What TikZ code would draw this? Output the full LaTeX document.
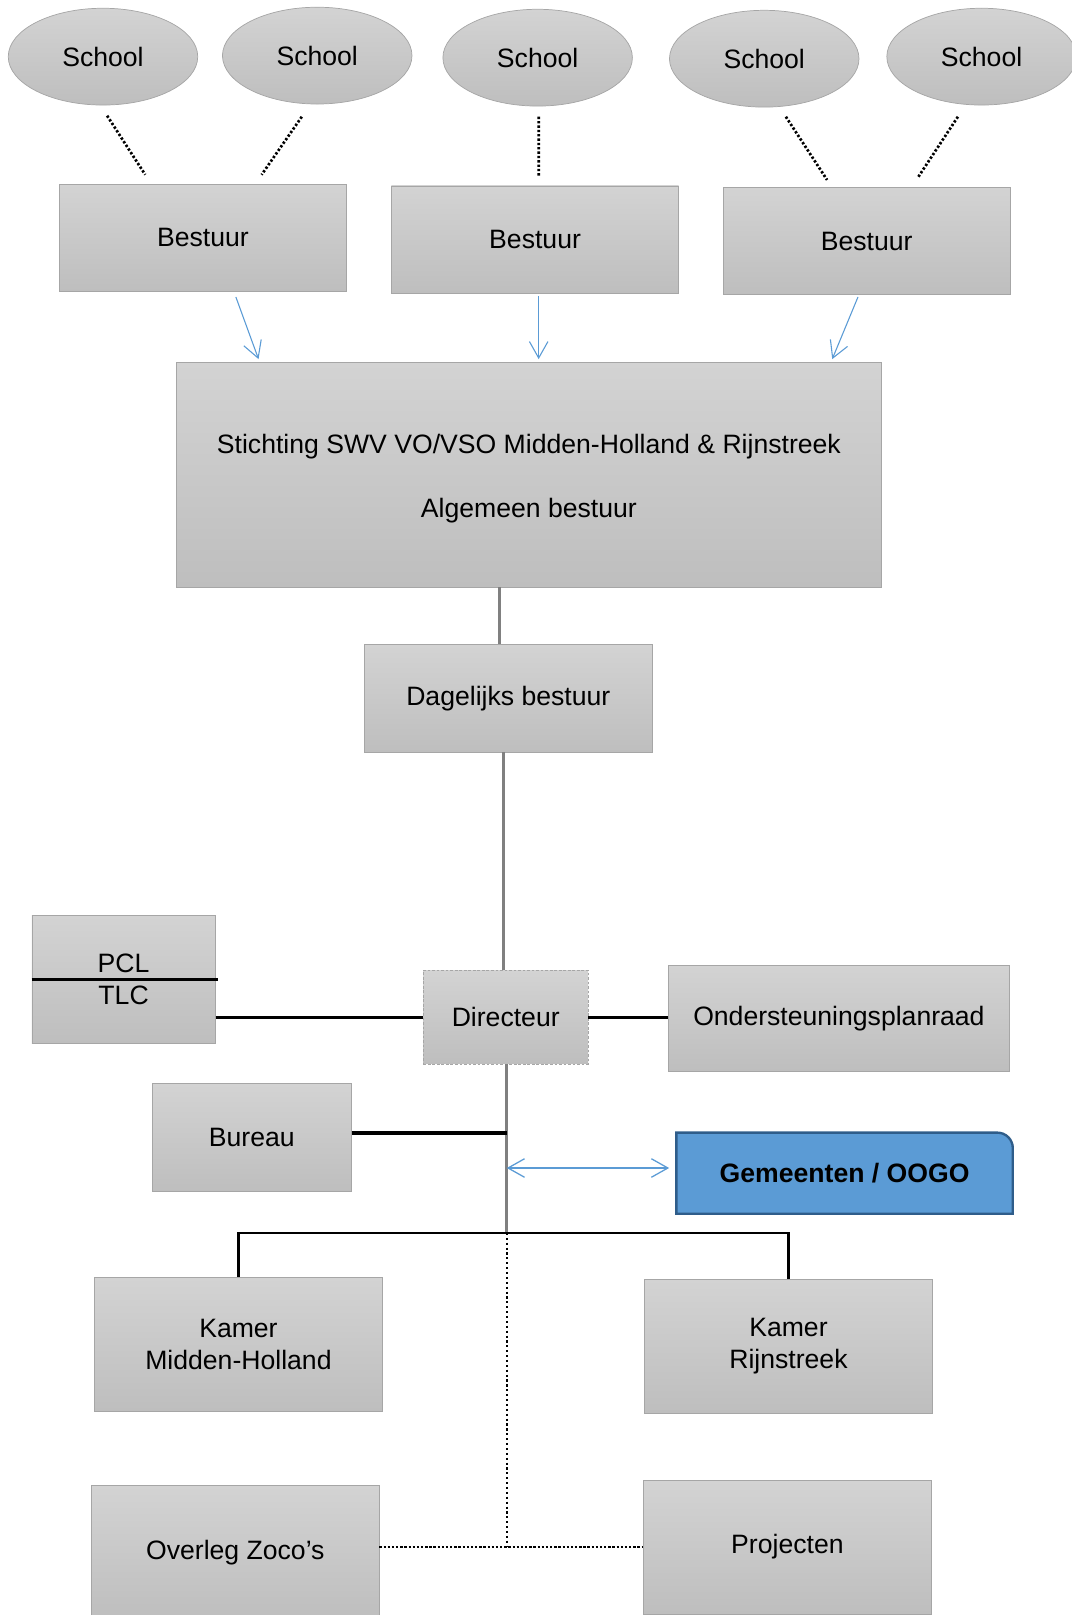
\documentclass[tikz,border=0pt]{standalone}
\usepackage{fontspec}
\setmainfont{Liberation Sans}
\usetikzlibrary{shapes.geometric, arrows.meta, backgrounds}
\definecolor{boxtop}{HTML}{D3D3D3}
\definecolor{boxbottom}{HTML}{BEBEBE}
\definecolor{boxline}{HTML}{A6A6A6}
\definecolor{linkblue}{HTML}{5B9BD5}
\definecolor{gemblue}{HTML}{5B9BD5}
\definecolor{gemline}{HTML}{2F5D8A}
\definecolor{trunkgray}{HTML}{808080}

\begin{document}
\begin{tikzpicture}[
    x=0.02cm, y=-0.02cm,
    font=\fontsize{14.7}{17.6}\selectfont,
    school/.style={ellipse, draw=boxline, top color=boxtop, bottom color=boxbottom, minimum width=3.68cm, minimum height=1.88cm, inner sep=0pt},
    unit/.style={rectangle, draw=boxline, top color=boxtop, bottom color=boxbottom, minimum width=5.58cm, minimum height=2.08cm, inner sep=0pt, align=center},
    member/.style={line width=1.5pt, dash pattern=on 1.3pt off 1.1pt},
    feed/.style={-{Straight Barb[length=3.2mm, width=3.6mm]}, linkblue, line width=0.6pt},
    twoway/.style={{Straight Barb[length=3.2mm, width=3.6mm]}-{Straight Barb[length=3.2mm, width=3.6mm]}, linkblue, line width=0.7pt},
    trunk/.style={trunkgray, line width=1.4pt},
    link/.style={black, line width=1.7pt},
    dots/.style={line width=1.4pt, dash pattern=on 1.3pt off 1pt},
    thindots/.style={line width=0.9pt, dash pattern=on 1.2pt off 1.5pt}
]
    \useasboundingbox (0,0) rectangle (1040,1568);

    % Schools
    \node[school] (s1) at (100,55) {School};
    \node[school] (s2) at (308,54) {School};
    \node[school] (s3) at (522,56) {School};
    \node[school] (s4) at (742,57) {School};
    \node[school] (s5) at (953,55) {School};

    % Besturen
    \node[unit] (b1) at (197,231) {Bestuur};
    \node[unit] (b2) at (519.5,232.5) {Bestuur};
    \node[unit] (b3) at (841.5,234) {Bestuur};

    % Stichting
    \node[unit, minimum width=13.7cm, minimum height=4.36cm] (swv) at (513.5,461) {\rule{0pt}{15.3pt}Stichting SWV VO/VSO Midden-Holland \& Rijnstreek\\[17.7pt]Algemeen bestuur};
    \node[unit] (db) at (493.5,678) {Dagelijks bestuur};
    \node[unit, dash pattern=on 1.5pt off 1pt, minimum width=3.2cm, minimum height=1.82cm] (dir) at (491,987.5) {Directeur};

    % Around the directeur
    \node[unit, minimum width=3.56cm, minimum height=2.48cm] (pcl) at (120,951) {PCL\\TLC};
    \node[unit, minimum width=6.62cm, minimum height=2.06cm] (osp) at (814.5,988.5) {Ondersteuningsplanraad};
    \node[unit, minimum width=3.86cm, minimum height=2.1cm] (bur) at (244.5,1104.5) {Bureau};
    \node[minimum width=6.52cm, minimum height=1.56cm, inner sep=0pt] (gem) at (820,1139) {\bfseries Gemeenten / OOGO};
    \begin{scope}[on background layer]
        \filldraw[fill=gemblue, draw=gemline, line width=1.3pt] (gem.south west) -- (gem.north west) -- ([xshift=-0.3cm]gem.north east) arc[start angle=90, end angle=0, radius=0.3cm] -- (gem.south east) -- cycle;
    \end{scope}

    % Kamers and the rest
    \node[unit, minimum height=2.6cm] (kmh) at (231.5,1305) {Kamer\\Midden-Holland};
    \node[unit, minimum height=2.6cm] (krs) at (765.5,1307) {Kamer\\Rijnstreek};
    \node[unit, minimum height=2.6cm] (zoco) at (228.5,1507) {Overleg Zoco’s};
    \node[unit, minimum height=2.6cm] (proj) at (764.5,1502) {Projecten};

    % Schools to besturen
    \draw[member] ([shift={(4,10)}]s1.south) -- ([shift={(-56,-9)}]b1.north);
    \draw[member] ([shift={(-15,12)}]s2.south) -- ([shift={(57,-9)}]b1.north);
    \draw[member] ([shift={(1,10)}]s3.south) -- ([shift={(3.5,-8)}]b2.north);
    \draw[member] ([shift={(21,9)}]s4.south) -- ([shift={(-38.5,-7)}]b3.north);
    \draw[member] ([shift={(-23,11)}]s5.south) -- ([shift={(49.5,-9)}]b3.north);

    % Besturen to stichting
    \draw[feed] ([shift={(32,5)}]b1.south) -- ([shift={(-262.5,-3)}]swv.north);
    \draw[feed] ([shift={(3.5,3)}]b2.south) -- ([shift={(9.5,-3)}]swv.north);
    \draw[feed] ([shift={(-8.5,2)}]b3.south) -- ([shift={(294.5,-3)}]swv.north);

    % Line of command
    \coordinate (dbtop) at ([xshift=-0.17cm]db.north);
    \coordinate (dbfoot) at ([xshift=-0.09cm]db.south);
    \coordinate (hub) at (492,1197);
    \draw[trunk] (dbtop |- swv.south) -- (dbtop);
    \draw[trunk] (dbfoot) -- (dbfoot |- dir.north);
    \draw[trunk] (dir.south -| hub) -- (hub);

    \draw[link, line width=1.2pt] (pcl.west) -- ([xshift=0.04cm]pcl.east);
    \draw[link] (pcl.east |- dir.west) -- (dir.west);
    \draw[link] (dir.east) -- (dir.east -| osp.west);
    \coordinate (burout) at ([yshift=0.09cm]bur.east);
    \draw[link] (burout) -- (burout -| hub);
    \draw[link, line width=1.4pt] (kmh.north) |- (hub) -| (krs.north);

    \coordinate (gemin) at ([yshift=0.1cm]gem.west);
    \draw[twoway] (gemin -| hub) -- ([xshift=-0.14cm]gemin);

    \draw[thindots] (hub) -- (hub |- proj.west);
    \draw[dots] (zoco.east |- proj.west) -- (proj.west);
\end{tikzpicture}
\end{document}
